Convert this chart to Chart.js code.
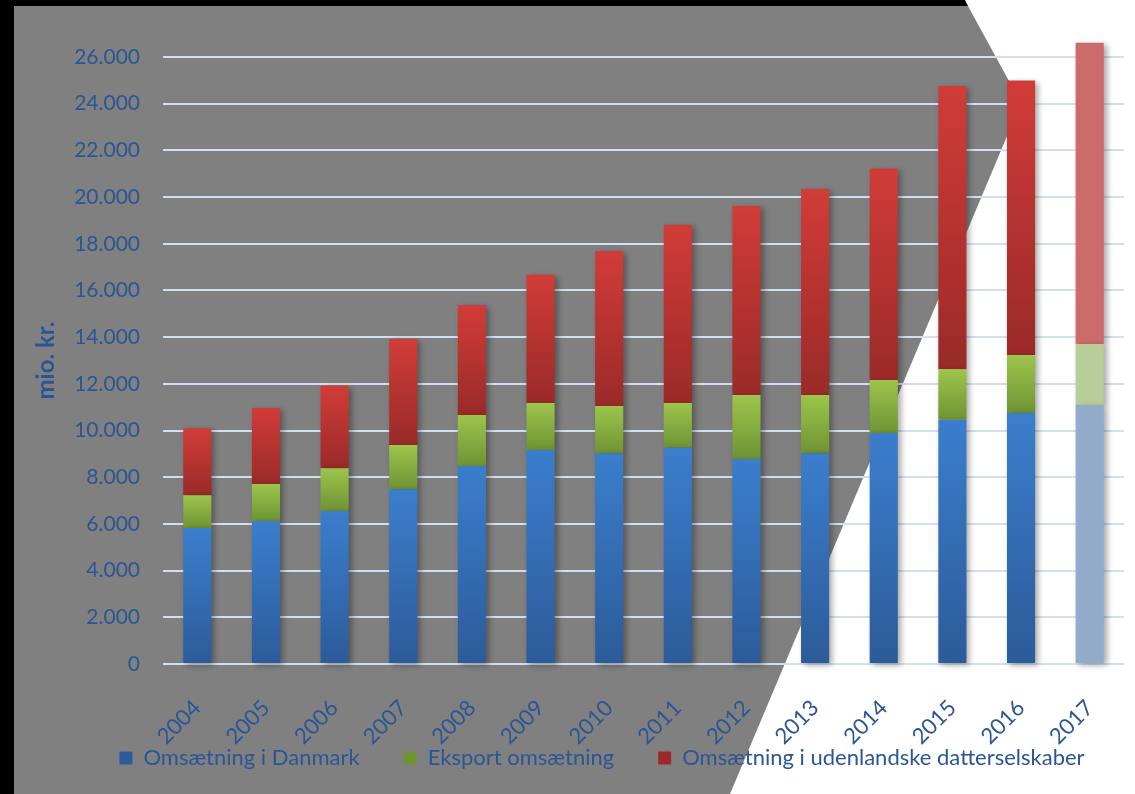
<!DOCTYPE html>
<html>
<head>
<meta charset="utf-8">
<script src="https://cdn.jsdelivr.net/npm/chart.js@4.4.1/dist/chart.umd.min.js"></script>
<style>
  html, body { margin: 0; padding: 0; background: #fff; }
  #wrap { width: 1135px; height: 794px; }
</style>
</head>
<body>
<div id="wrap"><canvas id="chart"></canvas></div>
<script>
// data (mio. kr.)
const years = ['2004', '2005', '2006', '2007', '2008', '2009', '2010', '2011', '2012', '2013', '2014', '2015', '2016', '2017'];
const omsDanmark = [5830, 6120, 6550, 7490, 8480, 9170, 9020, 9260, 8780, 9020, 9890, 10460, 10750, 11090];
const eksportOms = [1400, 1590, 1840, 1890, 2190, 2010, 2030, 1920, 2740, 2500, 2270, 2170, 2490, 2620];
const udenlandskeOms = [2870, 3260, 3530, 4540, 4710, 5490, 6640, 7630, 8100, 8830, 9060, 12130, 11750, 12900];
const seriesNames = ['Omsætning i Danmark', 'Eksport omsætning', 'Omsætning i udenlandske datterselskaber'];
const yMax = 26000;
const yStep = 2000;

const series = [omsDanmark, eksportOms, udenlandskeOms];
const textBlue = '#2A5596';
const solidColors = ['#3470BA', '#8AB443', '#C03633'];
const gradStops = [['#3B7ECD', '#2C5B99'], ['#9DC54C', '#6E9433'], ['#D13C38', '#9A2A28']];
const fadedColors = ['#93ABCB', '#B9CD99', '#CC6B6B'];
const fadedIndex = years.indexOf('2017');

function barFill(c, s) {
  const chart = c.chart;
  const y = chart.scales.y;
  if (c.type !== 'data' || !y || !chart.chartArea) return solidColors[s];
  const i = c.dataIndex;
  if (i === fadedIndex) return fadedColors[s];
  let base = 0;
  for (let k = 0; k < s; k++) base += series[k][i];
  const top = base + series[s][i];
  const g = chart.ctx.createLinearGradient(0, y.getPixelForValue(top), 0, y.getPixelForValue(base));
  g.addColorStop(0, gradStops[s][0]);
  g.addColorStop(1, gradStops[s][1]);
  return g;
}

function formatDa(v) {
  return String(v).replace(/\B(?=(\d{3})+(?!\d))/g, '.');
}

// grey slanted backdrop with black edge
const backdrop = {
  id: 'backdrop',
  beforeDraw(chart) {
    const ctx = chart.ctx;
    const w = chart.width, h = chart.height;
    ctx.save();
    ctx.fillStyle = '#ffffff';
    ctx.fillRect(0, 0, w, h);
    ctx.fillStyle = '#000000';
    ctx.beginPath();
    ctx.moveTo(0, 0); ctx.lineTo(965, 0); ctx.lineTo(968, 6);
    ctx.lineTo(14, 6); ctx.lineTo(14, h); ctx.lineTo(0, h);
    ctx.closePath();
    ctx.fill();
    ctx.fillStyle = '#808080';
    ctx.beginPath();
    ctx.moveTo(14, 6); ctx.lineTo(968, 6); ctx.lineTo(1021, 103);
    ctx.lineTo(730, h); ctx.lineTo(14, h);
    ctx.closePath();
    ctx.fill();
    ctx.restore();
  }
};

const barShadow = {
  id: 'barShadow',
  beforeDatasetsDraw(chart) {
    const ctx = chart.ctx;
    ctx.save();
    ctx.shadowColor = 'rgba(0, 0, 0, 0.35)';
    ctx.shadowBlur = 6;
    ctx.shadowOffsetX = 3;
    ctx.shadowOffsetY = 2;
  },
  afterDatasetsDraw(chart) {
    chart.ctx.restore();
  }
};

// legend sits a bit right of centre and overlaps the x label band
const legendShift = {
  id: 'legendShift',
  afterLayout(chart) {
    const lg = chart.legend;
    lg.left += 30;
    lg.right += 30;
    lg.top -= 47;
    lg.bottom = chart.height;
  }
};

const datasets = series.map((values, s) => ({
  label: seriesNames[s],
  data: values,
  backgroundColor: (c) => barFill(c, s),
  borderWidth: 0,
  barPercentage: 0.82,
  categoryPercentage: 0.5,
  clip: false
}));

new Chart(document.getElementById('chart'), {
  type: 'bar',
  data: { labels: years, datasets: datasets },
  plugins: [backdrop, barShadow, legendShift],
  options: {
    responsive: true,
    maintainAspectRatio: false,
    animation: false,
    layout: { padding: { left: 20, right: 11, top: 57, bottom: 0 } },
    plugins: {
      legend: {
        position: 'bottom',
        maxHeight: 44,
        labels: {
          boxWidth: 13,
          boxHeight: 13,
          padding: 44,
          color: textBlue,
          font: { family: 'Lato', size: 22 }
        }
      },
      tooltip: { enabled: false }
    },
    scales: {
      x: {
        stacked: true,
        grid: { display: false },
        border: { display: false },
        ticks: {
          color: textBlue,
          font: { family: 'Lato', size: 22 },
          maxRotation: 45,
          minRotation: 45,
          autoSkip: false,
          padding: 23
        },
        afterFit(scale) { scale.height = 86; }
      },
      y: {
        stacked: true,
        min: 0,
        max: yMax,
        border: { display: false },
        grid: { color: '#D3DEEE', lineWidth: 2, drawTicks: false },
        ticks: {
          stepSize: yStep,
          color: textBlue,
          padding: 23,
          font: { family: 'Lato', size: 21 },
          callback: (v) => formatDa(v)
        },
        title: {
          display: true,
          text: 'mio. kr.',
          color: textBlue,
          padding: { top: 12, bottom: 0 },
          font: { family: 'Lato', size: 24, weight: 'bold' }
        },
        afterFit(scale) { scale.width = 143; }
      }
    }
  }
});
</script>
</body>
</html>
